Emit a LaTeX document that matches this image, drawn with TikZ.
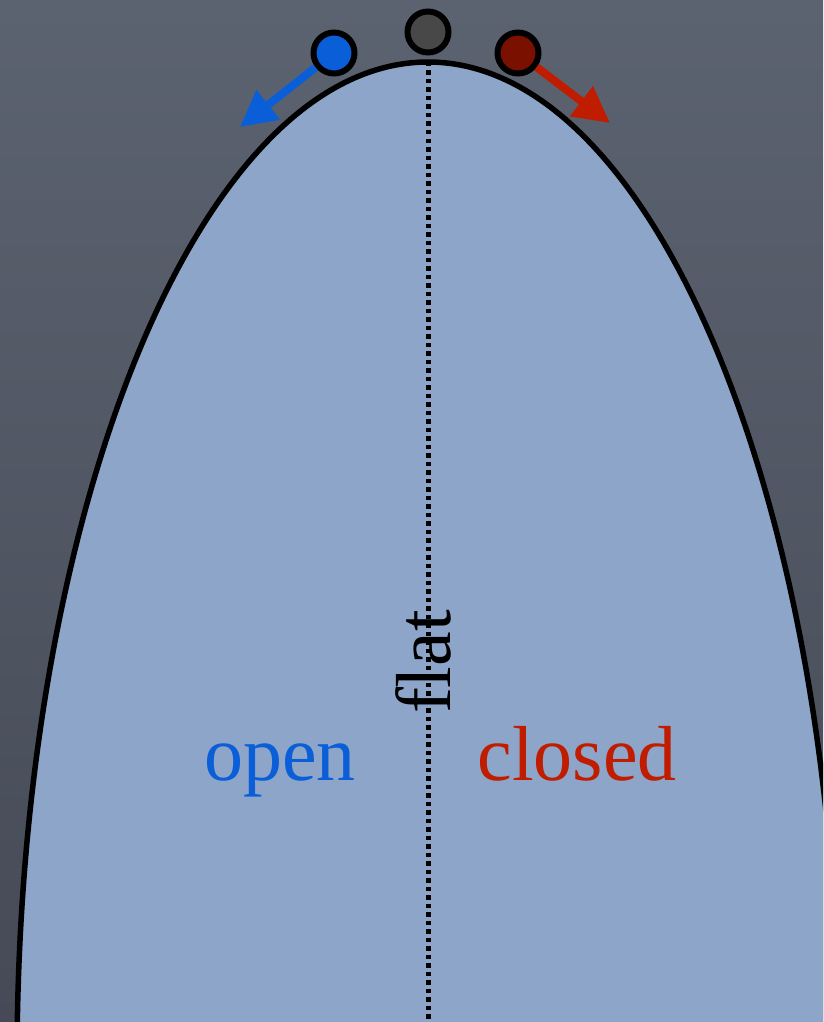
\documentclass[tikz,border=0pt]{standalone}
\usepackage{fontspec}
\setmainfont{Liberation Serif}
\usepackage{xcolor}
\usepackage{tikz}
\usetikzlibrary{arrows.meta, positioning, calc}
\definecolor{slatetop}{HTML}{5C6370}
\definecolor{slatebot}{HTML}{454A56}
\definecolor{hill}{HTML}{8DA5C8}
\definecolor{openblue}{HTML}{0A5FD8}
\definecolor{closedred}{HTML}{C01C00}
\definecolor{ballred}{HTML}{7A1000}
\definecolor{ballgray}{HTML}{484848}
\tikzset{
  ball/.style={circle, draw=black, line width=6pt, inner sep=0pt,
               minimum size=41pt},
  push/.style={line width=8pt, -{Triangle[length=36pt, width=36pt]}},
  word/.style={font=\fontsize{78}{90}\selectfont, inner sep=0pt, anchor=base},
  ridge/.style={line width=5pt, dash pattern=on 4.5pt off 4pt}
}

\begin{document}
\begin{tikzpicture}[x=1pt, y=-1pt]
        \useasboundingbox (0,0) rectangle (823,1022);
        \clip (0,0) rectangle (823,1022);
        \shade[top color=slatetop, bottom color=slatebot] (0,0) rectangle (823,1022);
        \filldraw[fill=hill, draw=black, line width=5.5pt]
          (428,1062) ellipse [x radius=411, y radius=1000];
        \coordinate (apex) at (428,62);
        \coordinate (base) at (428,1030);
        \draw[ridge] (apex) -- (base);
        \node[word, rotate=90] (flat) at (450,662) {flat};
        \node[word, text=openblue] (open) at (280,780) {open};
        \node[word, text=closedred] (closed) at (577,780) {closed};
        \node[ball, fill=ballgray] (still) at (428,32) {};
        \node[ball, fill=openblue] (left) at (334,53) {};
        \node[ball, fill=ballred] (right) at (518,53) {};
        \coordinate (lefttip) at (240,127);
        \coordinate (righttip) at (610,123);
        \draw[push, openblue] (left) -- (lefttip);
        \draw[push, closedred] (right) -- (righttip);
      \end{tikzpicture}
\end{document}
